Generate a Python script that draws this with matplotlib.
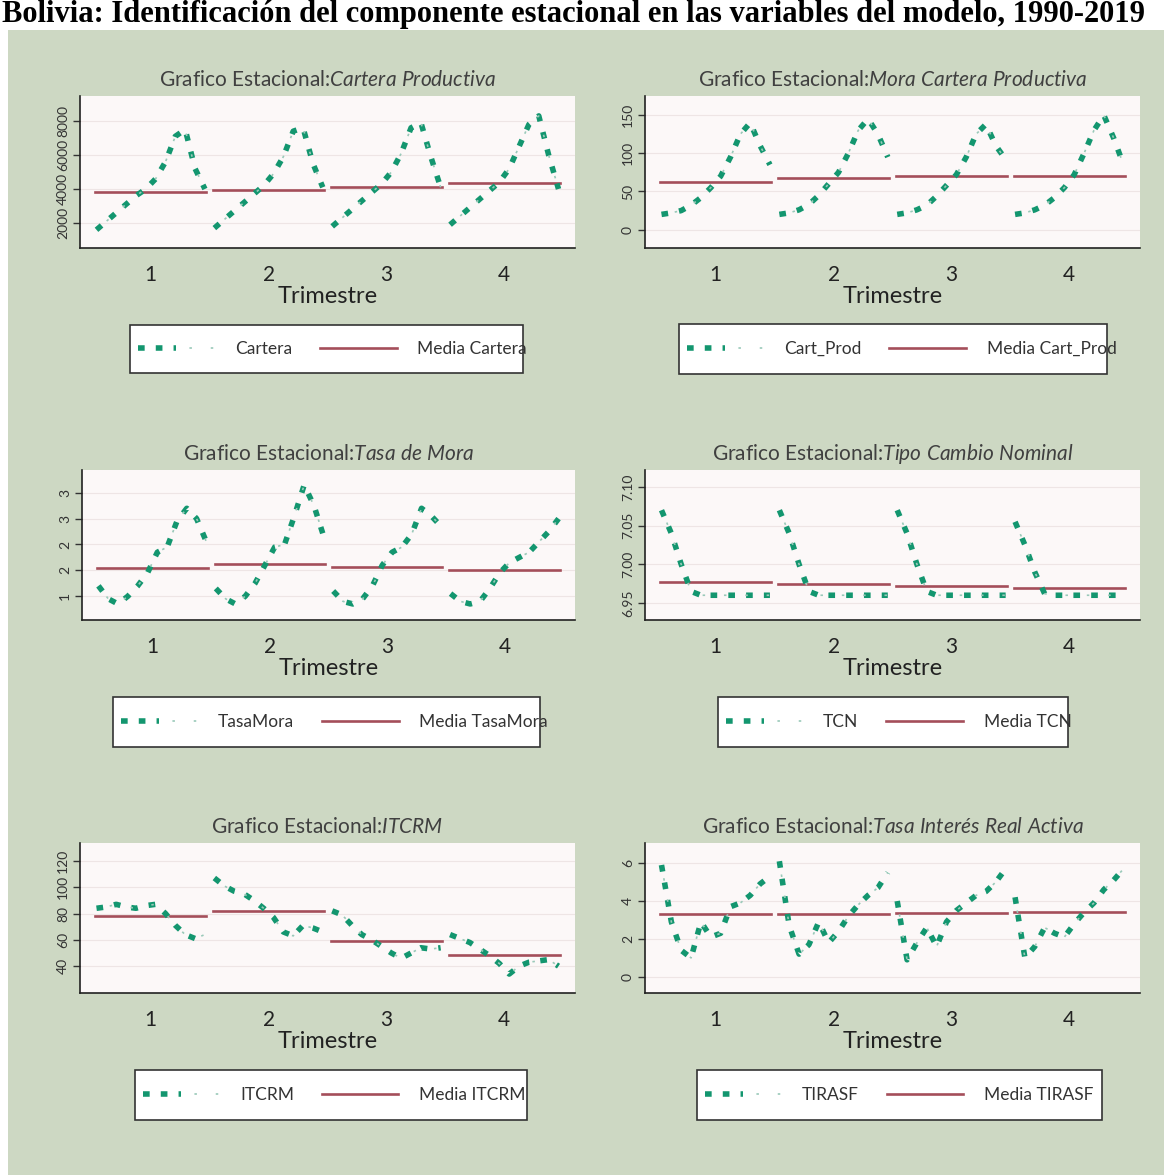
import numpy as np
import matplotlib
matplotlib.use("Agg")
import matplotlib.pyplot as plt
from matplotlib.patches import Rectangle
from matplotlib.legend_handler import HandlerTuple

plt.rcParams['font.family'] = ['Lato', 'DejaVu Sans']
plt.rcParams['mathtext.fontset'] = 'custom'
plt.rcParams['mathtext.rm'] = 'Lato'
plt.rcParams['mathtext.it'] = 'Lato:italic'

# --- data (one list per quarter, each list = years) ---
quarters = [1, 2, 3, 4]

cartera = [
    [1600, 2100, 2600, 3100, 3600, 4000, 4600, 5600, 7100, 7500, 5200, 4000],
    [1700, 2200, 2700, 3200, 3700, 4200, 4900, 5900, 7400, 7600, 5500, 4100],
    [1800, 2300, 2800, 3300, 3800, 4300, 5000, 6100, 7600, 7900, 5900, 4100],
    [1900, 2400, 2900, 3400, 3900, 4400, 5200, 6500, 7800, 8300, 6000, 4000],
]
cartera_media = [3850, 3950, 4100, 4350]

cart_prod = [
    [20, 22, 25, 32, 42, 55, 70, 95, 125, 140, 110, 85],
    [20, 22, 26, 33, 45, 60, 75, 100, 130, 145, 125, 95],
    [20, 22, 26, 32, 44, 58, 72, 95, 125, 138, 110, 92],
    [20, 22, 26, 32, 42, 55, 72, 100, 130, 150, 120, 85],
]
cart_prod_media = [63, 68, 70, 70]

tasa_mora = [
    [1.2, 0.95, 0.85, 1.0, 1.2, 1.45, 1.85, 1.95, 2.45, 2.7, 2.5, 2.05],
    [1.15, 0.95, 0.85, 1.0, 1.25, 1.6, 1.95, 2.0, 2.55, 3.15, 2.75, 2.15],
    [1.1, 0.9, 0.85, 0.95, 1.2, 1.6, 1.85, 1.95, 2.2, 2.7, 2.55, 2.35],
    [1.05, 0.9, 0.85, 0.9, 1.15, 1.45, 1.65, 1.75, 1.85, 2.05, 2.25, 2.5],
]
tasa_mora_media = [1.54, 1.62, 1.56, 1.5]

tcn = [
    [7.07, 7.04, 7.00, 6.965, 6.96, 6.96, 6.96, 6.96, 6.96, 6.96, 6.96, 6.96],
    [7.07, 7.04, 7.00, 6.965, 6.96, 6.96, 6.96, 6.96, 6.96, 6.96, 6.96, 6.96],
    [7.07, 7.04, 7.00, 6.965, 6.96, 6.96, 6.96, 6.96, 6.96, 6.96, 6.96, 6.96],
    [7.055, 7.025, 6.99, 6.962, 6.96, 6.96, 6.96, 6.96, 6.96, 6.96, 6.96, 6.96],
]
tcn_media = [6.977, 6.974, 6.972, 6.970]

itcrm = [
    [84, 85, 87, 85, 84, 86, 87, 80, 71, 64, 61, 64],
    [107, 101, 97, 95, 90, 84, 77, 66, 63, 71, 69, 66],
    [82, 79, 71, 64, 60, 55, 50, 46, 50, 54, 53, 54],
    [64, 61, 58, 53, 48, 42, 34, 40, 43, 44, 45, 40],
]
itcrm_media = [78, 82, 59, 48.5]

tirasf = [
    [5.9, 2.9, 1.4, 1.0, 2.9, 2.1, 2.3, 3.7, 3.9, 4.3, 4.9, 5.3],
    [6.1, 2.7, 1.2, 1.7, 2.9, 1.8, 2.4, 3.2, 3.8, 4.3, 4.7, 5.5],
    [4.0, 0.9, 1.8, 2.6, 1.6, 2.9, 3.5, 3.9, 4.3, 4.5, 5.0, 5.7],
    [4.2, 1.0, 1.6, 2.6, 2.3, 2.1, 2.8, 3.4, 3.9, 4.6, 5.1, 5.7],
]
tirasf_media = [3.34, 3.3, 3.35, 3.4]

W, H = 1164, 1175
GREEN = '#CDD8C3'
TEAL = '#13966F'
TEAL_LIGHT = '#9AC9B9'
RED = '#A44E5A'

panels = [
    ('Cartera Productiva', cartera, cartera_media, 'Cartera',
     (530, 9470), [2000, 4000, 6000, 8000], ['2000', '4000', '6000', '8000'],
     (80, 96, 575, 248), (130, 325, 523, 373)),
    ('Mora Cartera Productiva', cart_prod, cart_prod_media, 'Cart_Prod',
     (-24, 175), [0, 50, 100, 150], ['0', '50', '100', '150'],
     (645, 96, 1140, 248), (679, 324, 1107, 374)),
    ('Tasa de Mora', tasa_mora, tasa_mora_media, 'TasaMora',
     (0.54, 3.44), [1, 1.5, 2, 2.5, 3], ['1', '2', '2', '3', '3'],
     (82, 470, 575, 620), (113, 697, 540, 747)),
    ('Tipo Cambio Nominal', tcn, tcn_media, 'TCN',
     (6.928, 7.122), [6.95, 7.00, 7.05, 7.10], ['6.95', '7.00', '7.05', '7.10'],
     (645, 470, 1140, 620), (718, 697, 1068, 747)),
    ('ITCRM', itcrm, itcrm_media, 'ITCRM',
     (19.6, 133.6), [40, 60, 80, 100, 120], ['40', '60', '80', '100', '120'],
     (80, 843, 575, 993), (135, 1070, 527, 1120)),
    ('Tasa Interés Real Activa', tirasf, tirasf_media, 'TIRASF',
     (-0.85, 7.06), [0, 2, 4, 6], ['0', '2', '4', '6'],
     (645, 843, 1140, 993), (697, 1070, 1102, 1120)),
]


def px_rect(x0, y0, x1, y1):
    return [x0 / W, 1 - y1 / H, (x1 - x0) / W, (y1 - y0) / H]


fig = plt.figure(figsize=(W / 100, H / 100), dpi=100)
fig.patch.set_facecolor('white')
fig.add_artist(Rectangle((8 / W, 0), 1 - 8 / W, 1 - 30 / H, transform=fig.transFigure,
                         fc=GREEN, ec='none', zorder=-10))
fig.text(0.002, 1 - 22 / H,
         'Bolivia: Identificación del componente estacional en las variables del modelo, 1990-2019',
         fontfamily='Liberation Serif', fontweight='bold', fontsize=22, va='baseline', ha='left')

for name, series, media, lab, ylim, yt, ytl, arect, lbox in panels:
    ax = fig.add_axes(px_rect(*arect))
    ax.set_facecolor('#FCF8F8')
    for q, vals, m in zip(quarters, series, media):
        x = q + np.linspace(-0.46, 0.46, len(vals))
        mean_line, = ax.plot([q - 0.47, q + 0.47], [m, m], color=RED, lw=1.9, zorder=2)
        thick, = ax.plot(x, vals, color=TEAL, lw=4, dashes=(1.2, 2.0), zorder=3,
                         dash_capstyle='butt')
        thin, = ax.plot(x, vals, color=TEAL_LIGHT, lw=1.2, linestyle=(4.75, (1.5, 11.3)),
                        zorder=3)
    ax.set_xlim(0.4, 4.6)
    ax.set_ylim(*ylim)
    ax.set_xticks(quarters)
    ax.set_xticklabels([str(q) for q in quarters], fontsize=15, color='#222222')
    ax.tick_params(axis='x', length=0, pad=12)
    ax.set_yticks(yt)
    ax.set_yticklabels(ytl, fontsize=10, color='#333333', rotation=90, va='center')
    ax.tick_params(axis='y', length=5, width=1, color='#333333', pad=3)
    ax.yaxis.grid(True, color='#EEE5E5', lw=0.8)
    ax.set_axisbelow(True)
    for s in ('top', 'right'):
        ax.spines[s].set_visible(False)
    for s in ('left', 'bottom'):
        ax.spines[s].set_color('#222222')
        ax.spines[s].set_linewidth(1.2)
    ax.set_xlabel('Trimestre', fontsize=17, color='#222222', labelpad=1)
    ax.set_title('Grafico Estacional:$\\mathit{' + name.replace(' ', '\\ ') + '}$',
                 fontsize=15, color='#404040', pad=7)

    x0, y0, x1, y1 = lbox
    fig.add_artist(Rectangle((x0 / W, 1 - y1 / H), (x1 - x0) / W, (y1 - y0) / H,
                             transform=fig.transFigure, fc='white', ec='#333333',
                             lw=1.2, zorder=1))
    fig.legend(handles=[(thick, thin), mean_line], labels=[lab, 'Media ' + lab],
               handler_map={tuple: HandlerTuple(ndivide=None)},
               loc='center left', bbox_to_anchor=((x0 + 8) / W, 1 - (y0 + y1) / 2 / H),
               ncol=2, frameon=False, fontsize=12.5, handlelength=4.4, handletextpad=1.2,
               columnspacing=1.6, borderpad=0, borderaxespad=0, labelcolor='#333333')

fig.savefig('out.png', dpi=100)
